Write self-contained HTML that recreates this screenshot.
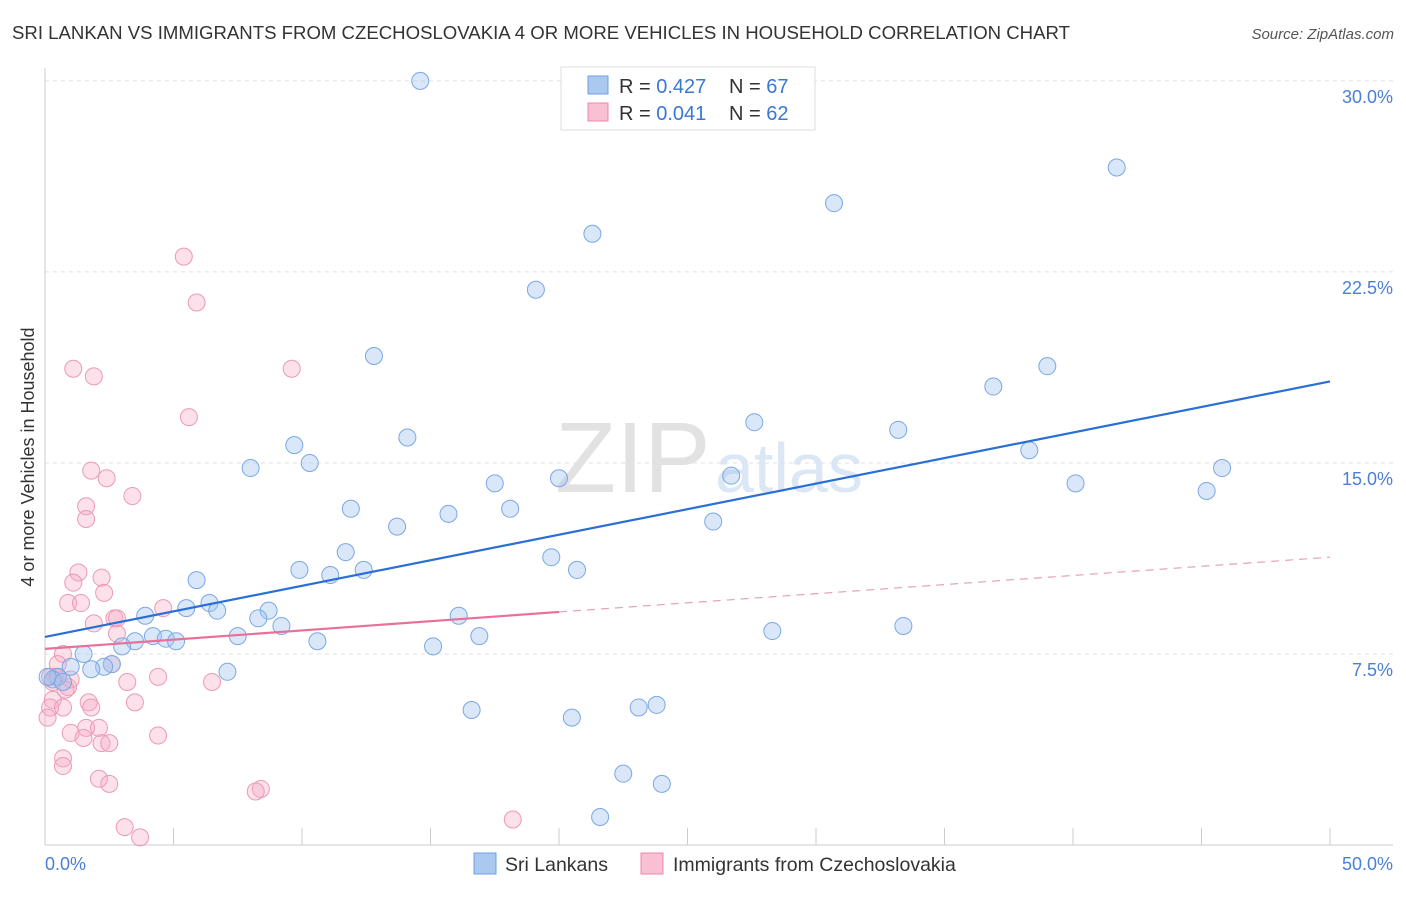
<!DOCTYPE html>
<html><head><meta charset="utf-8"><style>
body{margin:0;background:#fff;font-family:"Liberation Sans",sans-serif;}
svg text{font-family:"Liberation Sans",sans-serif;}
</style></head><body>
<svg width="1406" height="892" viewBox="0 0 1406 892" xmlns="http://www.w3.org/2000/svg">
<text x="12" y="39" font-size="18.6" fill="#333">SRI LANKAN VS IMMIGRANTS FROM CZECHOSLOVAKIA 4 OR MORE VEHICLES IN HOUSEHOLD CORRELATION CHART</text>
<text x="1394" y="39" font-size="15" fill="#555" text-anchor="end" font-style="italic">Source: ZipAtlas.com</text>
<text x="555" y="492" font-size="100" fill="#d0d0d0" font-family="Liberation Serif" opacity="0.6">ZIP</text>
<text x="715" y="492" font-size="70" fill="#c4d8ee" opacity="0.6">atlas</text>
<g id="grid"></g>
<g id="axes"></g>
<g id="pink"></g>
<g id="blue"></g>
<g id="lines"></g>
<text transform="translate(34,457) rotate(-90)" font-size="18" fill="#333" text-anchor="middle">4 or more Vehicles in Household</text>
<text x="45" y="870" font-size="18" fill="#4a7fd4">0.0%</text>
<text x="1393" y="870" font-size="18" fill="#4a7fd4" text-anchor="end">50.0%</text>
<g>
<rect x="561" y="67" width="254" height="63" fill="#fff" stroke="#ddd"/>
<rect x="588" y="76" width="20" height="18" fill="#aac8f0" stroke="#6fa0e0"/>
<rect x="588" y="103" width="20" height="18" fill="#f8c0d2" stroke="#e88aa8"/>
<text x="619" y="93" font-size="20" fill="#333">R = <tspan fill="#3a78d4">0.427</tspan></text>
<text x="729" y="93" font-size="20" fill="#333">N = <tspan fill="#3a78d4">67</tspan></text>
<text x="619" y="120" font-size="20" fill="#333">R = <tspan fill="#3a78d4">0.041</tspan></text>
<text x="729" y="120" font-size="20" fill="#333">N = <tspan fill="#3a78d4">62</tspan></text>
</g>
<g>
<rect x="474" y="853" width="22" height="21" fill="#aac8f0" stroke="#6fa0e0"/>
<text x="505" y="871" font-size="19.5" fill="#333">Sri Lankans</text>
<rect x="641" y="853" width="22" height="21" fill="#f8c0d2" stroke="#e88aa8"/>
<text x="673" y="871" font-size="19.5" fill="#333">Immigrants from Czechoslovakia</text>
</g>
</svg>
<script>
const yTicks=[7.5,15,22.5,30];
const yTickLabels=["7.5%","15.0%","22.5%","30.0%"];
const xTicks=[0,5,10,15,20,25,30,35,40,45,50];
const blueX=[14.6,41.7,30.7,21.3,19.1,12.8,39.0,36.9,27.6,33.2,14.1,9.7,38.3,8.0,10.3,45.8,20.0,26.7,17.5,40.1,45.2,11.9,15.7,18.1,13.7,26.0,11.7,19.7,9.9,11.1,12.4,20.7,5.9,5.5,6.4,6.7,3.9,8.7,8.3,16.1,9.2,28.3,33.4,4.2,4.7,5.1,7.5,10.6,16.9,3.5,3.0,15.1,1.5,2.6,2.3,1.8,1.0,7.1,0.5,0.3,0.7,16.6,20.5,23.1,23.8,22.5,24.0,21.6,0.1];
const blueY=[30.0,26.6,25.2,24.0,21.8,19.2,18.8,18.0,16.6,16.3,16.0,15.7,15.5,14.8,15.0,14.8,14.4,14.5,14.2,14.2,13.9,13.2,13.0,13.2,12.5,12.7,11.5,11.3,10.8,10.6,10.8,10.8,10.4,9.3,9.5,9.2,9.0,9.2,8.9,9.0,8.6,8.4,8.6,8.2,8.1,8.0,8.2,8.0,8.2,8.0,7.8,7.8,7.5,7.1,7.0,6.9,7.0,6.8,6.6,6.5,6.4,5.3,5.0,5.4,5.5,2.8,2.4,1.1,6.6];
const pinkX=[5.4,5.9,1.1,1.9,9.6,5.6,1.8,2.4,3.4,1.6,1.6,1.3,2.2,1.1,2.3,0.9,1.4,4.6,2.7,1.9,2.8,2.8,0.7,0.5,2.6,0.4,0.2,0.3,0.5,0.9,3.2,4.4,6.5,0.3,1.7,3.5,0.2,0.7,0.1,1.6,2.1,1.0,4.4,1.5,2.2,2.5,0.7,0.7,2.1,2.5,8.4,8.2,3.1,3.7,18.2,1.0,0.8,1.8];
const pinkY=[23.1,21.3,18.7,18.4,18.7,16.8,14.7,14.4,13.7,13.3,12.8,10.7,10.5,10.3,9.9,9.5,9.5,9.3,8.9,8.7,8.9,8.3,7.5,7.1,7.1,6.6,6.6,6.4,6.6,6.2,6.4,6.6,6.4,5.7,5.6,5.6,5.4,5.4,5.0,4.6,4.6,4.4,4.3,4.2,4.0,4.0,3.4,3.1,2.6,2.4,2.2,2.1,0.7,0.3,1.0,6.5,6.1,5.4];
const blueLine=[[0,8.17],[50,18.2]];
const pinkLine=[[0,7.7],[20,9.15]];
const pinkDash=[[20,9.15],[50,11.3]];
const X=v=>45+v/50*1285, Y=v=>845-v*25.47;
const NS="http://www.w3.org/2000/svg";
function mk(t,a,p){const e=document.createElementNS(NS,t);for(const k in a)e.setAttribute(k,a[k]);document.getElementById(p).appendChild(e);return e;}
yTicks.forEach((t,i)=>{
 const l=mk('line',{x1:45,x2:1393,y1:Y(t),y2:Y(t),stroke:'#e2e2e2','stroke-dasharray':'4,4'},'grid');
 
 
 const tx=mk('text',{x:1393,y:Y(t)+22,'font-size':18,fill:'#4a7fd4','text-anchor':'end'},'grid');
 tx.textContent=yTickLabels[i];
 
 
});
const ax=mk('line',{x1:45,x2:45,y1:68,y2:845,stroke:'#ccc'},'axes');


const bx=mk('line',{x1:45,x2:1393,y1:845,y2:845,stroke:'#ccc'},'axes');


xTicks.forEach(t=>{const l=mk('line',{x1:X(t),x2:X(t),y1:828,y2:845,stroke:'#ccc'},'axes');
 
 });
pinkX.forEach((v,i)=>{const c=mk('circle',{cx:X(v),cy:Y(pinkY[i]),r:8.5,fill:'rgba(245,170,195,0.35)',stroke:'#ec9ab4','stroke-width':1},'pink');
 
 });
blueX.forEach((v,i)=>{const c=mk('circle',{cx:X(v),cy:Y(blueY[i]),r:8.5,fill:'rgba(160,195,240,0.4)',stroke:'#7aa8e4','stroke-width':1},'blue');
 
 });
function ln(d,st,dash,w,name){const l=mk('line',{x1:X(d[0][0]),y1:Y(d[0][1]),x2:X(d[1][0]),y2:Y(d[1][1]),stroke:st,'stroke-width':w},'lines');if(dash)l.setAttribute('stroke-dasharray',dash);
 
 }
ln(blueLine,'#2a6fd6',null,2.2,'blue-trend-line');
ln(pinkLine,'#e8709a',null,2.2,'pink-trend-line');
ln(pinkDash,'#e8a0b8','8,6',1.2,'pink-trend-extension');
</script>
</body></html>
